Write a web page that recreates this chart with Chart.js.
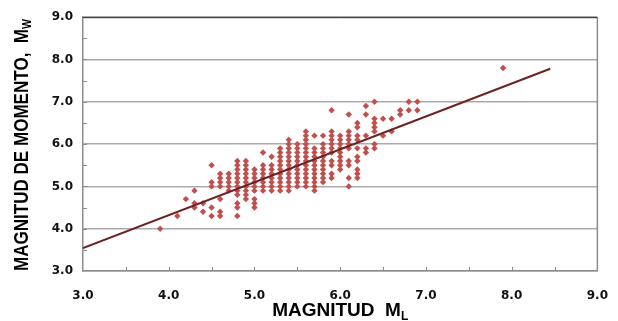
<!DOCTYPE html>
<html>
<head>
<meta charset="utf-8">
<script src="https://cdn.jsdelivr.net/npm/chart.js@4.4.1/dist/chart.umd.min.js"></script>
<style>
  html, body { margin: 0; padding: 0; background: #fff; }
  #wrap { width: 618px; height: 321px; }
</style>
</head>
<body>
<div id="wrap"><canvas id="myChart" width="618" height="321"></canvas></div>
<script>
// columns of points: one ML value per column,
// and the Mw values seen in that column
const magnitudML = [3.9, 4.1, 4.2, 4.3, 4.4, 4.5, 4.6, 4.7, 4.8, 4.9, 5.0, 5.1, 5.2, 5.3, 5.4, 5.5,
  5.6, 5.7, 5.8, 5.9, 6.0, 6.1, 6.2, 6.3, 6.4, 6.5, 6.6, 6.7, 6.8, 6.9, 7.9]
const magnitudMw = [
  [4.0],
  [4.3],
  [4.7],
  [4.9, 4.6, 4.5],
  [4.6, 4.4],
  [5.5, 5.1, 5.0, 4.5, 4.3],
  [5.3, 5.2, 5.1, 5.0, 4.7, 4.4, 4.3],
  [5.3, 5.2, 5.1, 5.0, 4.9],
  [5.6, 5.5, 5.4, 5.3, 5.2, 5.1, 5.0, 4.9, 4.8, 4.6, 4.5, 4.3],
  [5.6, 5.5, 5.4, 5.3, 5.2, 5.1, 5.0, 4.9, 4.8, 4.7],
  [5.4, 5.3, 5.2, 5.1, 5.0, 4.9, 4.7, 4.6, 4.5],
  [5.8, 5.5, 5.4, 5.3, 5.2, 5.1, 5.0, 4.9],
  [5.7, 5.5, 5.4, 5.3, 5.2, 5.1, 5.0, 4.9],
  [5.9, 5.8, 5.7, 5.6, 5.5, 5.4, 5.3, 5.2, 5.1, 5.0, 4.9],
  [6.1, 6.0, 5.9, 5.8, 5.7, 5.6, 5.5, 5.4, 5.3, 5.2, 5.1, 5.0, 4.9],
  [6.0, 5.9, 5.8, 5.7, 5.6, 5.5, 5.4, 5.3, 5.2, 5.1, 5.0],
  [6.3, 6.2, 6.1, 6.0, 5.9, 5.8, 5.7, 5.6, 5.5, 5.4, 5.3, 5.2, 5.1, 5.0],
  [6.2, 5.9, 5.8, 5.7, 5.6, 5.5, 5.4, 5.3, 5.2, 5.1, 5.0, 4.9],
  [6.2, 6.0, 5.9, 5.8, 5.7, 5.6, 5.5, 5.4, 5.3, 5.2, 5.1],
  [6.8, 6.3, 6.2, 6.1, 6.0, 5.9, 5.8, 5.6, 5.5, 5.3, 5.2],
  [6.2, 6.1, 6.0, 5.9, 5.8, 5.7, 5.6, 5.5, 5.4],
  [6.7, 6.3, 6.2, 6.1, 6.0, 5.9, 5.6, 5.5, 5.2, 5.0],
  [6.5, 6.4, 6.2, 6.1, 5.9, 5.7, 5.6, 5.4, 5.3, 5.2],
  [6.9, 6.7, 6.2, 5.9, 5.8],
  [7.0, 6.6, 6.5, 6.4, 6.3, 6.0, 5.9],
  [6.6, 6.2],
  [6.6, 6.3],
  [6.8, 6.7],
  [7.0, 6.8],
  [7.0, 6.8],
  [7.8]
]
// fitted line, its two ends
const rectaML = [3.0, 8.45]
const rectaMw = [3.54, 7.78]
const ejeMin = 3
const ejeMax = 9

const puntos = []
magnitudML.forEach((ml, i) => {
  magnitudMw[i].forEach(mw => puntos.push({ x: ml, y: mw }))
})
const recta = rectaML.map((ml, i) => ({ x: ml, y: rectaMw[i] }))

// frame, inner ticks and axis titles (with subscripts)
const marco = {
  id: 'marco',
  beforeDatasetsDraw(chart) {
    const { ctx, chartArea: a, scales } = chart
    ctx.save()
    ctx.strokeStyle = '#8c8c8c'
    ctx.lineWidth = 1.5
    ctx.beginPath()
    ctx.moveTo(a.right, a.top)
    ctx.lineTo(a.right, a.bottom)
    ctx.stroke()
    ctx.strokeStyle = '#222'
    ctx.lineWidth = 1
    ctx.beginPath()
    ctx.moveTo(a.left, a.top + 0.5)
    ctx.lineTo(a.right, a.top + 0.5)
    ctx.stroke()
    ctx.strokeStyle = '#8c8c8c'
    ctx.lineWidth = 1
    for (let v = ejeMin + 0.5; v < ejeMax; v += 0.5) {
      const px = Math.round(scales.x.getPixelForValue(v)) + 0.5
      const py = Math.round(scales.y.getPixelForValue(v)) + 0.5
      ctx.beginPath()
      ctx.moveTo(px, a.bottom)
      ctx.lineTo(px, a.bottom - 4)
      ctx.moveTo(a.left, py)
      ctx.lineTo(a.left + 4, py)
      ctx.stroke()
    }
    ctx.restore()
  },
  afterDraw(chart) {
    const { ctx, chartArea: a } = chart
    ctx.save()
    ctx.fillStyle = '#000'
    ctx.textBaseline = 'alphabetic'

    // x title
    ctx.font = 'bold 19px "Liberation Sans"'
    const tx = 'MAGNITUD  M'
    const wx = ctx.measureText(tx).width
    ctx.font = 'bold 12px "Liberation Sans"'
    const sx = ctx.measureText('L').width
    let x0 = (a.left + a.right) / 2 - (wx + sx) / 2
    ctx.font = 'bold 19px "Liberation Sans"'
    ctx.fillText(tx, x0, 316)
    ctx.font = 'bold 12px "Liberation Sans"'
    ctx.fillText('L', x0 + wx, 320)

    // y title, rotated and a bit narrow
    ctx.translate(28, 145)
    ctx.rotate(-Math.PI / 2)
    ctx.font = 'bold 21px "Liberation Sans"'
    const ty = 'MAGNITUD DE MOMENTO,  M'
    const wy = ctx.measureText(ty).width
    ctx.font = 'bold 13px "Liberation Sans"'
    const sy = ctx.measureText('W').width
    const k = 252 / (wy + sy)
    ctx.scale(k, 1)
    const y0 = -(wy + sy) / 2
    ctx.font = 'bold 21px "Liberation Sans"'
    ctx.fillText(ty, y0, 0)
    ctx.font = 'bold 13px "Liberation Sans"'
    ctx.fillText('W', y0 + wy, 3)
    ctx.restore()
  }
}

const ctx = document.getElementById('myChart').getContext('2d')
new Chart(ctx, {
  type: 'scatter',
  data: {
    datasets: [
      {
        type: 'line',
        label: 'recta',
        data: recta,
        borderColor: '#6b2222',
        borderWidth: 2,
        pointRadius: 0,
        fill: false,
      },
      {
        label: 'sismos',
        data: puntos,
        pointStyle: 'rectRot',
        pointRadius: 3.2,
        backgroundColor: '#c0504d',
        borderWidth: 0,
      },
    ],
  },
  options: {
    responsive: false,
    animation: false,
    layout: { padding: { top: 13, right: 20, left: 0, bottom: 0 } },
    plugins: { legend: { display: false }, tooltip: { enabled: false } },
    scales: {
      x: {
        type: 'linear',
        min: ejeMin,
        max: ejeMax,
        grid: { display: false },
        border: { display: true, color: '#8c8c8c', width: 1.5 },
        ticks: {
          stepSize: 1,
          padding: 10,
          color: '#111',
          font: { family: 'DejaVu Sans', weight: 'bold', size: 12 },
          callback: v => v.toFixed(1),
        },
        afterFit: s => { s.height = 50 },
      },
      y: {
        min: ejeMin,
        max: ejeMax,
        grid: { color: '#ababab', lineWidth: 1.5, drawTicks: false },
        border: { display: true, color: '#8c8c8c', width: 1.5 },
        ticks: {
          stepSize: 1,
          padding: 10,
          color: '#111',
          font: { family: 'DejaVu Sans', weight: 'bold', size: 12 },
          callback: v => v.toFixed(1),
        },
        afterFit: s => { s.width = 83 },
      },
    },
  },
  plugins: [marco],
})
</script>
</body>
</html>
